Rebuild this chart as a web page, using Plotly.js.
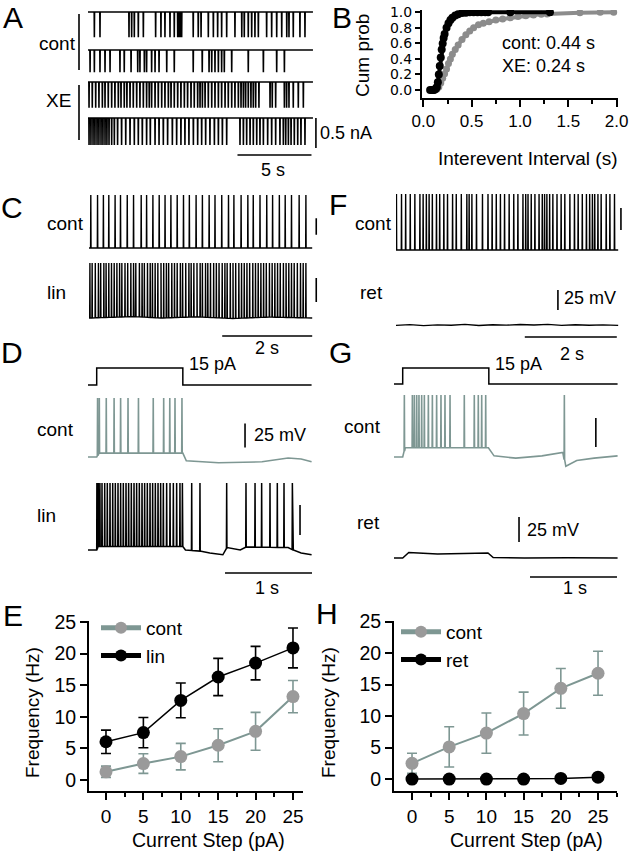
<!DOCTYPE html>
<html><head><meta charset="utf-8">
<script src="https://cdn.plot.ly/plotly-3.0.1.min.js"></script>
<style>html,body{margin:0;padding:0;background:#fff}#fig{width:630px;height:852px}</style>
</head><body><div id="fig"></div>
<script>
// ================= DATA =================
// Panel A: spike (event) times, s
const A_cont1 = [0.43,0.81,2.77,2.95,3.13,3.40,3.74,4.57,4.93,5.20,5.54,5.83,6.06,6.15,6.22,6.33,7.11,7.45,7.64,8.13,8.47,8.76,9.03,9.37,9.93,10.39,10.56,10.83,11.06,11.28,11.51,12.07,12.41,12.75,13.09,13.43,13.58,13.87,14.32,14.66];
const A_cont2 = [0.14,0.43,0.81,1.15,1.49,2.16,2.45,2.91,3.36,3.51,3.81,3.96,4.30,4.53,4.80,5.32,5.83,7.11,7.72,8.18,8.36,8.58,8.81,9.03,9.21,9.71,10.83,11.85,12.75,13.27];
const A_xe1 = [0.07,0.29,0.52,0.74,0.97,1.15,1.37,1.60,1.82,2.05,2.23,2.45,2.63,2.84,3.06,3.29,3.51,3.74,3.96,4.14,4.30,4.53,4.75,4.98,5.20,5.43,5.61,5.83,6.06,6.28,6.51,6.73,6.96,7.18,7.41,7.57,7.73,7.91,8.13,8.36,8.58,8.81,9.03,9.26,9.48,9.71,9.93,10.16,10.34,10.50,10.65,10.83,11.01,11.17,11.33,11.55,12.30,12.45,12.68,13.27,13.42,13.58,13.87,14.21,14.55];
const A_xe2 = [0.07,0.20,0.34,0.47,0.61,0.74,0.88,1.01,1.15,1.28,1.42,1.60,1.78,2.00,2.27,2.55,2.84,3.13,3.40,3.67,3.96,4.21,4.53,4.80,5.09,5.38,5.70,5.99,6.28,6.55,6.82,7.12,7.41,7.68,7.95,8.24,8.54,8.81,9.08,9.37,10.27,10.50,10.72,10.95,11.17,11.40,11.62,11.85,12.14,12.41,12.68,12.97,13.20,13.36,13.54,13.72,13.94,14.17,14.39,14.66];
const A_amp = [-0.42,-0.37,-0.43,-0.45];          // nA
// Panel B: cumulative probability of interevent interval
const B_xe_x  = [0.07,0.09,0.11,0.12,0.13,0.14,0.15,0.16,0.17,0.18,0.19,0.20,0.21,0.22,0.24,0.26,0.28,0.30,0.33,0.36,0.40,0.44,0.48,0.52,0.56,0.60,0.64,0.67,0.90,1.31];
const B_xe_y  = [0,0,0,0.01,0.02,0.04,0.10,0.20,0.31,0.42,0.52,0.60,0.67,0.72,0.80,0.86,0.90,0.93,0.96,0.975,0.99,0.995,1,1,1,1,1,1,1,1];
const B_cont_x = [0.10,0.12,0.14,0.16,0.18,0.20,0.22,0.24,0.26,0.28,0.30,0.33,0.36,0.40,0.44,0.48,0.52,0.57,0.62,0.68,0.75,0.82,0.90,0.98,1.06,1.14,1.22,1.28,1.62,1.83,1.97];
const B_cont_y = [0,0,0.01,0.04,0.09,0.15,0.21,0.27,0.34,0.40,0.46,0.52,0.58,0.65,0.71,0.76,0.80,0.84,0.86,0.88,0.90,0.915,0.93,0.945,0.955,0.965,0.975,0.98,0.995,1.0,1.0];
// Panel C: spike times, s
const C_cont = [0.04,0.19,0.32,0.44,0.58,0.70,0.85,0.99,1.16,1.28,1.42,1.56,1.69,1.82,1.96,2.10,2.23,2.38,2.52,2.67,2.80,2.95,3.10,3.22,3.38,3.53,3.65,3.80,3.95,4.08,4.23,4.36,4.50,4.67,4.82];
const C_lin = [0.02,0.07,0.14,0.21,0.26,0.33,0.38,0.44,0.50,0.56,0.62,0.68,0.73,0.80,0.86,0.93,0.99,1.04,1.12,1.18,1.23,1.30,1.36,1.41,1.47,1.53,1.60,1.66,1.72,1.77,1.84,1.90,1.96,2.03,2.08,2.15,2.22,2.27,2.33,2.40,2.47,2.52,2.59,2.64,2.70,2.77,2.83,2.89,2.96,3.02,3.07,3.14,3.20,3.26,3.33,3.39,3.45,3.51,3.57,3.64,3.70,3.76,3.82,3.88,3.94,4.01,4.07,4.13,4.19,4.25,4.32,4.38,4.44,4.50,4.56,4.63,4.70,4.76,4.82];
// Panel F: spike times, s
const F_cont = [0.01,0.12,0.21,0.31,0.41,0.52,0.59,0.66,0.72,0.79,0.88,0.95,1.04,1.12,1.23,1.31,1.42,1.54,1.59,1.65,1.75,1.88,2.00,2.09,2.18,2.27,2.36,2.46,2.56,2.65,2.76,2.82,2.87,2.94,3.02,3.11,3.18,3.23,3.28,3.34,3.41,3.50,3.59,3.67,3.78,3.88,3.96,4.05,4.14,4.21,4.27,4.32,4.39,4.46,4.57,4.65,4.75];
const F_ret_t = [0,0.3,0.6,0.9,1.2,1.5,1.8,2.1,2.4,2.7,3.0,3.3,3.6,3.9,4.2,4.5,4.83];
const F_ret_v = [-65.5,-64.5,-65.8,-64.8,-65.3,-64.2,-65.6,-64.7,-65.2,-64.3,-65.0,-64.2,-65.5,-64.6,-65.3,-64.8,-65.5];
// Panels D and G: current step protocol
const stepOn = 0.10, stepOff = 1.09, stepAmp = 15, sweepEnd = 2.57;   // s, s, pA, s
const D_cont = [0.11,0.13,0.21,0.30,0.375,0.46,0.58,0.75,0.87,0.94,1.00,1.08];
const D_cont_bt = [0,0.10,0.13,1.09,1.13,1.5,2.0,2.3,2.45,2.57];
const D_cont_bv = [-61,-61,-57,-57,-65,-67,-66,-62,-63,-66];
const D_lin = [0.102,0.119,0.137,0.161,0.192,0.222,0.253,0.284,0.314,0.345,0.375,0.406,0.437,0.467,0.498,0.529,0.559,0.590,0.621,0.651,0.682,0.713,0.743,0.774,0.805,0.835,0.866,0.904,0.943,0.981,1.019,1.057,1.085,1.192,1.287,1.594,1.816,1.920,1.996,2.092,2.176,2.253,2.349];
const D_lin_bt = [0,0.10,0.12,1.09,1.12,1.30,1.40,1.55,1.60,1.75,1.82,2.30,2.36,2.45,2.57];
const D_lin_bv = [-65,-65,-62,-62,-65,-66,-67.5,-69,-63,-65,-62.5,-63,-65,-67.5,-69];
const G_cont = [0.119,0.211,0.234,0.261,0.287,0.318,0.349,0.395,0.441,0.490,0.540,0.586,0.644,0.808,0.923,0.969,1.008,1.054,1.958];
const G_cont_bt = [0,0.10,0.13,1.085,1.15,1.40,1.70,1.94,1.975,2.10,2.30,2.57];
const G_cont_bv = [-65,-65,-57,-57,-64,-66,-64,-61,-73,-68,-66,-64];
const G_ret_bt = [0,0.10,0.17,0.30,0.50,0.80,1.08,1.14,1.50,2.00,2.57];
const G_ret_bv = [-65,-65,-59.5,-60,-61,-60.5,-60,-64.5,-65,-64.8,-65];
// Panels E and H: firing frequency vs current step
const steps = [0,5,10,15,20,25];
const E_cont = [1.3,2.6,3.7,5.5,7.7,13.2];
const E_cont_err = [0.9,1.55,2.1,2.6,3.0,2.55];
const E_lin = [6.05,7.5,12.6,16.3,18.5,20.9];
const E_lin_err = [1.85,2.4,2.75,2.95,2.65,3.15];
const H_cont = [2.5,5.1,7.3,10.4,14.4,16.8];
const H_cont_err = [1.6,3.2,3.2,3.4,3.15,3.5];
const H_ret = [0,0,0,0,0.1,0.3];

// ================= BUILD =================
const W = 630, H = 852;
const FONT = 'Liberation Sans, Arial, Helvetica, sans-serif';
const WIDE = 'DejaVu Sans, Liberation Sans, sans-serif';
const TEAL = '#7e9793', GRAY = '#9a9a9a';
const data = [];
const layout = {
  width: W, height: H, margin: {l:0, r:0, t:0, b:0},
  paper_bgcolor: '#fff', plot_bgcolor: 'rgba(0,0,0,0)',
  font: {family: FONT, color: '#000', size: 18},
  showlegend: true, annotations: [], shapes: []
};
const px2x = p => p / W, px2y = p => 1 - p / H;

let axN = 3;
function strip(o) {
  axN++;
  const xs = 'x' + axN, ys = 'y' + axN;
  const l = o.x0 + o.xr[0] * o.kx, r = o.x0 + o.xr[1] * o.kx;
  const top = o.py - (o.yr[1] - o.vy) * o.ky, bot = o.py - (o.yr[0] - o.vy) * o.ky;
  layout['xaxis' + axN] = {domain: [Math.max(0, l / W), Math.min(1, r / W)], range: o.xr, visible: false, fixedrange: true, anchor: ys};
  layout['yaxis' + axN] = {domain: [Math.max(0, 1 - bot / H), Math.min(1, 1 - top / H)], range: o.yr, visible: false, fixedrange: true, anchor: xs};
  return {xa: xs, ya: ys};
}
function interp(ts, vs, t) {
  if (t <= ts[0]) return vs[0];
  for (let i = 1; i < ts.length; i++) if (t <= ts[i]) return vs[i-1] + (vs[i] - vs[i-1]) * (t - ts[i-1]) / (ts[i] - ts[i-1]);
  return vs[vs.length - 1];
}
function spikeLine(s, spikes, peak, bt, bv, hw, color, width) {
  const pts = bt.map((t, i) => [t, bv[i]]);
  spikes.forEach(t => { const b = interp(bt, bv, t); pts.push([t - hw, b], [t, peak], [t + hw, b]); });
  pts.sort((a, b) => a[0] - b[0]);
  data.push({type: 'scatter', mode: 'lines', x: pts.map(p => p[0]), y: pts.map(p => p[1]),
    xaxis: s.xa, yaxis: s.ya, line: {color: color, width: width}, showlegend: false, hoverinfo: 'skip'});
}
function stepLine(s, end) {
  data.push({type: 'scatter', mode: 'lines', x: [0, stepOn, stepOn, stepOff, stepOff, end], y: [0, 0, stepAmp, stepAmp, 0, 0],
    xaxis: s.xa, yaxis: s.ya, line: {color: '#000', width: 1.5}, showlegend: false, hoverinfo: 'skip'});
}
function vbar(s, t, v0, len) {
  layout.shapes.push({type: 'line', xref: s.xa, yref: s.ya, x0: t, x1: t, y0: v0, y1: v0 + len, line: {color: '#000', width: 1.6}});
}
function hbar(s, t0, len, ypx) {
  layout.shapes.push({type: 'line', xref: s.xa, yref: 'paper', x0: t0, x1: t0 + len, y0: px2y(ypx), y1: px2y(ypx), line: {color: '#000', width: 1.6}});
}
function pline(x0, y0, x1, y1) {
  layout.shapes.push({type: 'line', xref: 'paper', yref: 'paper', x0: px2x(x0), x1: px2x(x1), y0: px2y(y0), y1: px2y(y1), line: {color: '#000', width: 1.6}});
}
function txt(t, x, y, size, xa, rot, fam) {
  layout.annotations.push({text: t, xref: 'paper', yref: 'paper', x: px2x(x), y: px2y(y), xanchor: xa || 'left', yanchor: 'middle',
    showarrow: false, font: {size: size, family: fam || FONT, color: '#000'}, textangle: rot || 0, align: 'left'});
}

// ---- Panel A ----
const A_kx = 14.8, A_x0 = 88, A_ky = 60;
const A_base = [12, 50, 82, 118];
const A_sets = [A_cont1, A_cont2, A_xe1, A_xe2];
let A_last;
A_sets.forEach((sp, i) => {
  const s = strip({x0: A_x0, kx: A_kx, xr: [0, 15.6], vy: 0, py: A_base[i], ky: A_ky, yr: [-0.55, 0.06]});
  spikeLine(s, sp, A_amp[i], [0, 15.2], [0, 0], 0.012, '#000', 1.6);
  A_last = s;
});
vbar(A_last, 15.4, -0.5, 0.5);
hbar(A_last, 10.1, 5, 155);
pline(79, 14, 79, 70); pline(79, 85, 79, 140);
txt('cont', 78, 43, 19, 'right'); txt('XE', 73, 100, 19, 'right');
txt('0.5 nA', 318, 133, 18); txt('5 s', 273, 170, 18, 'center');

// ---- Panel B ----
layout.xaxis = {domain: [422 / W, 617.6 / W], range: [-0.014, 2.01], anchor: 'y', showline: true, linewidth: 2, linecolor: '#000',
  ticks: 'outside', ticklen: 7, tickwidth: 2, tickcolor: '#000', tick0: 0, dtick: 0.5, tickformat: '.1f',
  minor: {dtick: 0.25, ticks: 'outside', ticklen: 4, tickwidth: 2, tickcolor: '#000'},
  showgrid: false, zeroline: false, fixedrange: true, tickfont: {size: 17}};
layout.yaxis = {domain: [px2y(98), px2y(10)], range: [-0.103, 1.03], anchor: 'x', showline: true, linewidth: 2, linecolor: '#000',
  ticks: 'outside', ticklen: 5, tickwidth: 2, tickcolor: '#000', tick0: 0, dtick: 0.2, tickformat: '.1f', ticklabelstandoff: 0,
  showgrid: false, zeroline: false, fixedrange: true, tickfont: {size: 14, family: WIDE}};
data.push({type: 'scatter', mode: 'lines+markers', x: B_cont_x, y: B_cont_y, xaxis: 'x', yaxis: 'y',
  line: {color: '#8c8c8c', width: 4}, marker: {color: '#8c8c8c', size: 7}, showlegend: false, hoverinfo: 'skip'});
data.push({type: 'scatter', mode: 'lines+markers', x: B_xe_x, y: B_xe_y, xaxis: 'x', yaxis: 'y',
  line: {color: '#000', width: 4}, marker: {color: '#000', size: 8}, showlegend: false, hoverinfo: 'skip'});
txt('cont: 0.44 s<br>XE: 0.24 s', 500, 55, 18);
txt('Interevent Interval (s)', 528, 158, 19, 'center');
txt('Cum prob', 362, 56, 19, 'center', -90);

// ---- Panel C ----
const C_kx = 45, C_x0 = 89;
const sCc = strip({x0: C_x0, kx: C_kx, xr: [0, 5.12], vy: -60, py: 248, ky: 0.6625, yr: [-66, 26]});
spikeLine(sCc, C_cont, 20, [0, 4.96], [-60, -60], 0.005, '#000', 1.4);
vbar(sCc, 5.05, -40, 25);
const sCl = strip({x0: C_x0, kx: C_kx, xr: [0, 5.12], vy: -60, py: 318, ky: 0.96, yr: [-66, 2]});
spikeLine(sCl, C_lin, -2.7, [0, 1.0, 1.6, 2.4, 3.2, 4.0, 4.96], [-60, -58.5, -60, -58.8, -60.5, -59, -60], 0.005, '#000', 1.4);
vbar(sCl, 5.05, -43.3, 25);
hbar(sCl, 2.96, 2, 336);
txt('cont', 45, 223, 19); txt('lin', 45, 292, 19); txt('2 s', 267, 348, 18, 'center');

// ---- Panel F ----
const F_kx = 46, F_x0 = 396;
const sFc = strip({x0: F_x0, kx: F_kx, xr: [0, 4.95], vy: -60, py: 250, ky: 0.88, yr: [-66, 8]});
spikeLine(sFc, F_cont, 3.6, [0, 4.83], [-60, -60], 0.005, '#000', 1.4);
vbar(sFc, 4.89, -37.3, 25);
const sFr = strip({x0: F_x0, kx: F_kx, xr: [0, 4.95], vy: -65, py: 325, ky: 0.8, yr: [-70, -15]});
spikeLine(sFr, [], 0, F_ret_t, F_ret_v, 0.005, '#000', 1.4);
vbar(sFr, 3.52, -46.25, 25);
hbar(sFr, 2.80, 2, 337);
txt('cont', 353, 223, 19); txt('ret', 358, 292, 19); txt('25 mV', 562, 298, 18); txt('2 s', 572, 354, 18, 'center');

// ---- Panel D ----
const D_kx = 87, D_x0 = 88;
const sDs = strip({x0: D_x0, kx: D_kx, xr: [0, 2.62], vy: 0, py: 385, ky: 1.133, yr: [-2, 17]});
stepLine(sDs, sweepEnd);
const sDc = strip({x0: D_x0, kx: D_kx, xr: [0, 2.62], vy: -61, py: 457, ky: 0.96, yr: [-72, 6]});
spikeLine(sDc, D_cont, 0.5, D_cont_bt, D_cont_bv, 0.003, TEAL, 1.6);
vbar(sDc, 1.805, -51, 25);
const sDl = strip({x0: D_x0, kx: D_kx, xr: [0, 2.62], vy: -65, py: 550, ky: 1.2, yr: [-75, -5]});
spikeLine(sDl, D_lin, -9.2, D_lin_bt, D_lin_bv, 0.003, '#000', 1.5);
vbar(sDl, 2.437, -52.5, 25);
hbar(sDl, 1.575, 1, 573);
txt('15 pA', 187, 364, 18); txt('cont', 35, 430, 19); txt('25 mV', 252, 435, 18);
txt('lin', 35, 515, 19); txt('1 s', 267, 588, 18, 'center');

// ---- Panel G ----
const G_kx = 87, G_x0 = 394;
const sGs = strip({x0: G_x0, kx: G_kx, xr: [0, 2.62], vy: 0, py: 384, ky: 1.067, yr: [-2, 17]});
stepLine(sGs, sweepEnd);
const sGc = strip({x0: G_x0, kx: G_kx, xr: [0, 2.62], vy: -65, py: 457, ky: 1.16, yr: [-78, -5]});
spikeLine(sGc, G_cont, -11.6, G_cont_bt, G_cont_bv, 0.003, TEAL, 1.6);
vbar(sGc, 2.32, -56.4, 25);
const sGr = strip({x0: G_x0, kx: G_kx, xr: [0, 2.62], vy: -65, py: 558, ky: 1.0, yr: [-70, -20]});
spikeLine(sGr, [], 0, G_ret_bt, G_ret_bv, 0.003, '#000', 1.5);
vbar(sGr, 1.437, -49, 25);
hbar(sGr, 1.563, 1, 577);
txt('15 pA', 493, 364, 18); txt('cont', 342, 427, 19); txt('ret', 355, 522, 19);
txt('25 mV', 525, 530, 18); txt('1 s', 575, 588, 18, 'center');

// ---- Panels E and H ----
function freqAxes(n, xl, xr, xrange, yrange) {
  layout['xaxis' + n] = {domain: [xl / W, xr / W], range: xrange, anchor: 'y' + n, showline: true, linewidth: 2, linecolor: '#000',
    ticks: 'outside', ticklen: 7, tickwidth: 2, tickcolor: '#000', tick0: 0, dtick: 5, ticklabelstandoff: 0,
    minor: {dtick: 2.5, ticks: 'outside', ticklen: 4, tickwidth: 2, tickcolor: '#000'},
    showgrid: false, zeroline: false, fixedrange: true, tickfont: {size: 19}};
  layout['yaxis' + n] = {domain: [px2y(791), px2y(621)], range: yrange, anchor: 'x' + n, showline: true, linewidth: 2, linecolor: '#000',
    ticks: 'outside', ticklen: 7, tickwidth: 2, tickcolor: '#000', tick0: 0, dtick: 5,
    showgrid: false, zeroline: false, fixedrange: true, tickfont: {size: 19.5}};
}
freqAxes(2, 89, 303, [-2.27, 26.34], [-1.74, 25.16]);
freqAxes(3, 394, 617, [-2.42, 27.55], [-1.9, 25.1]);
function freqTrace(n, y, err, name, lineColor, markColor, lw, leg) {
  const t = {type: 'scatter', mode: 'lines+markers', name: name, x: steps, y: y, xaxis: 'x' + n, yaxis: 'y' + n,
    line: {color: lineColor, width: lw}, marker: {color: markColor, size: 13}, legend: leg, hoverinfo: 'skip'};
  if (err) t.error_y = {type: 'data', array: err, visible: true, color: lineColor, thickness: 1.6, width: 5};
  data.push(t);
}
freqTrace(2, E_cont, E_cont_err, 'cont', TEAL, GRAY, 2, 'legend');
freqTrace(2, E_lin, E_lin_err, 'lin', '#000', '#000', 1.5, 'legend');
freqTrace(3, H_cont, H_cont_err, 'cont', TEAL, GRAY, 2, 'legend2');
freqTrace(3, H_ret, null, 'ret', '#000', '#000', 1.5, 'legend2');
const legStyle = {xref: 'paper', yref: 'paper', xanchor: 'left', yanchor: 'top', bgcolor: 'rgba(0,0,0,0)',
  font: {size: 19, family: FONT, color: '#000'}, itemwidth: 40, tracegroupgap: 0, itemsizing: 'constant'};
layout.legend = Object.assign({x: px2x(96), y: px2y(609)}, legStyle);
layout.legend2 = Object.assign({x: px2x(396), y: px2y(613)}, legStyle);
txt('Current Step (pA)', 208, 840, 19.5, 'center');
txt('Current Step (pA)', 526, 840, 19.5, 'center');
txt('Frequency (Hz)', 32, 713, 19, 'center', -90);
txt('Frequency (Hz)', 328, 713, 19, 'center', -90);

// ---- panel letters ----
[['A', 13, 17], ['B', 342, 17], ['C', 12, 208], ['F', 338, 205], ['D', 12, 353], ['G', 340, 353], ['E', 13, 615], ['H', 327, 613]]
  .forEach(l => txt(l[0], l[1], l[2], 30, 'center'));

Plotly.newPlot('fig', data, layout, {staticPlot: true, displayModeBar: false});
</script></body></html>
